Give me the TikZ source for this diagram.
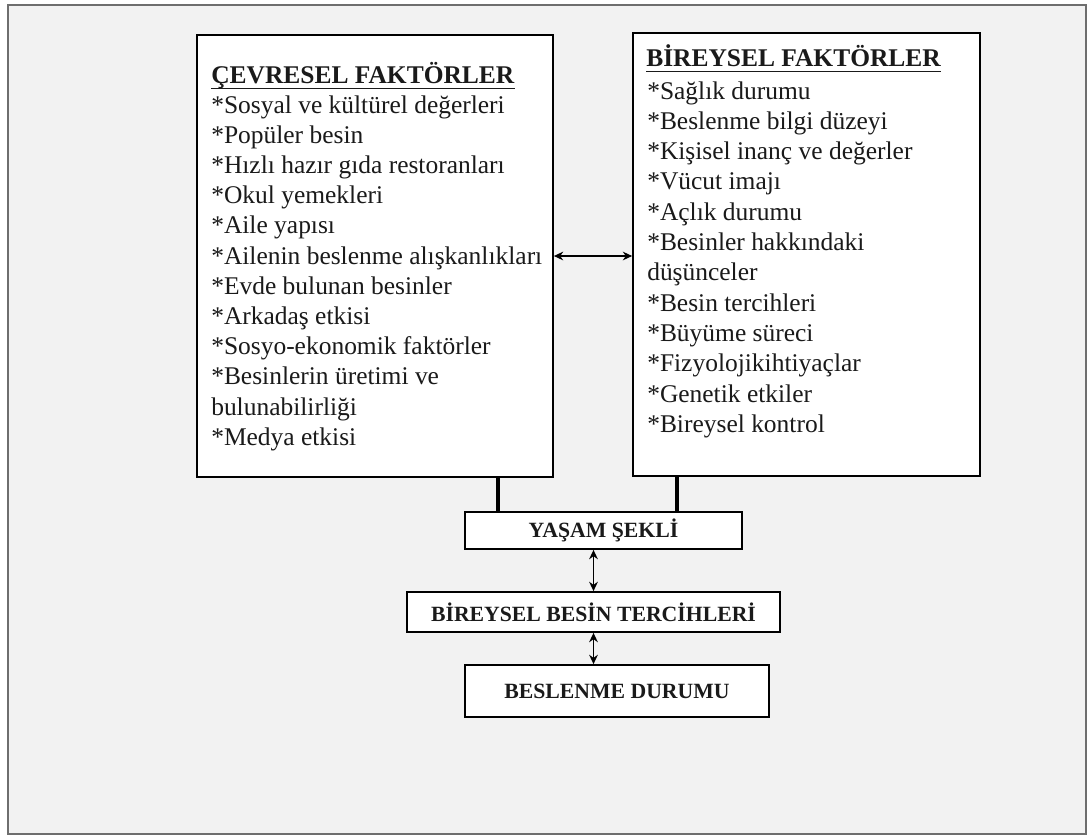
\documentclass[tikz,border=0pt]{standalone}
\usepackage{fontspec}
\setmainfont{Liberation Serif}
\usetikzlibrary{arrows.meta}
\definecolor{bgc}{HTML}{F2F2F2}
\definecolor{framec}{HTML}{6E6E6E}
\definecolor{txt}{HTML}{1A1A1A}
\begin{document}
\begin{tikzpicture}[x=0.75pt,y=-0.75pt,
  bigbox/.style={draw=black,line width=1.3pt,fill=white,inner sep=0pt},
  smallbox/.style={draw=black,line width=1.3pt,fill=white,inner sep=0pt,text=txt,font=\fontsize{16.3}{19}\selectfont\bfseries},
  item/.style={anchor=base west,inner sep=0pt,text=txt,font=\fontsize{19.1}{22}\selectfont},
  head/.style={anchor=base west,inner sep=0pt,text=txt,font=\fontsize{19.1}{22}\selectfont\bfseries},
  uline/.style={line width=1.2pt,draw=txt},
  link/.style={line width=2.8pt},
  dbl/.style={line width=1.3pt,{Stealth[length=7pt,width=6.5pt]}-{Stealth[length=7pt,width=6.5pt]}}]
\useasboundingbox (0,0) rectangle (1088,836);
\draw[framec,line width=1.6pt,fill=bgc] (8,5) rectangle (1086,834);

% large boxes
\node[bigbox,minimum width=356*0.75pt,minimum height=442*0.75pt] (cb) at (375,256) {};
\node[bigbox,minimum width=347*0.75pt,minimum height=443*0.75pt] (bb) at (806.5,254.5) {};

% left box text
\node[head] (lh) at (211,83) {ÇEVRESEL FAKTÖRLER};
\draw[uline] ([yshift=-4pt]lh.base west) -- ([yshift=-4pt]lh.base east);
\foreach \t [count=\i from 0] in {*Sosyal ve kültürel değerleri,*Popüler besin,*Hızlı hazır gıda restoranları,*Okul yemekleri,*Aile yapısı,*Ailenin beslenme alışkanlıkları,*Evde bulunan besinler,*Arkadaş etkisi,*Sosyo-ekonomik faktörler,*Besinlerin üretimi ve,bulunabilirliği,*Medya etkisi}
  \node[item] (l\i) at (211,{113+30.2*\i}) {\t};

% right box text
\node[head] (rh) at (646,66) {BİREYSEL FAKTÖRLER};
\draw[uline] ([yshift=-4pt]rh.base west) -- ([yshift=-4pt]rh.base east);
\foreach \t [count=\i from 0] in {*Sağlık durumu,*Beslenme bilgi düzeyi,*Kişisel inanç ve değerler,*Vücut imajı,*Açlık durumu,*Besinler hakkındaki,düşünceler,*Besin tercihleri,*Büyüme süreci,*Fizyolojikihtiyaçlar,*Genetik etkiler,*Bireysel kontrol}
  \node[item] (r\i) at (647,{99+30.3*\i}) {\t};

% small boxes
\node[smallbox,minimum width=277*0.75pt,minimum height=37*0.75pt] (ys) at (603.5,530.5) {YAŞAM ŞEKLİ};
\node[smallbox,minimum width=373*0.75pt,minimum height=40*0.75pt] (bt) at (593.5,612) {BİREYSEL BESİN TERCİHLERİ};
\node[smallbox,minimum width=304*0.75pt,minimum height=52*0.75pt] (bd) at (617,691) {BESLENME DURUMU};

% connectors
\path (cb.south) ++(123,0) coordinate (c1);
\path (bb.south) ++(-129.5,0) coordinate (c2);
\draw[link] (c1) -- (c1 |- ys.north);
\draw[link] (c2) -- (c2 |- ys.north);
\draw[dbl] (cb.east) -- (cb.east -| bb.west);
\draw[dbl] (ys.south -| bt.north) -- (bt.north);
\draw[dbl] (bt.south) -- (bt.south |- bd.north);
\end{tikzpicture}
\end{document}
